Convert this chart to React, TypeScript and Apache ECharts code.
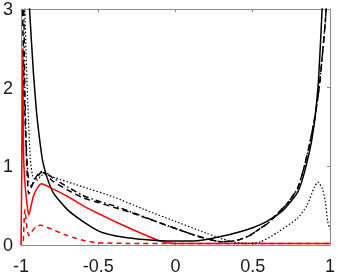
import React, { useEffect, useRef } from "react";
import * as echarts from "echarts";

const xTicks = [-1, -0.5, 0, 0.5, 1];
const yTicks = [0, 1, 2, 3];

// black solid
const solidX = [-0.96, -0.945, -0.92, -0.9, -0.88, -0.86, -0.83, -0.79, -0.7, -0.6, -0.5, -0.4, -0.3, -0.2, -0.1, 0, 0.1, 0.2, 0.3, 0.4, 0.5, 0.6, 0.7, 0.79, 0.834, 0.886, 0.922, 0.949, 0.96];
const solidY = [3.6, 3.0, 2.2, 1.7, 1.35, 1.07, 0.85, 0.66, 0.45, 0.3, 0.18, 0.12, 0.09, 0.07, 0.055, 0.05, 0.05, 0.07, 0.11, 0.16, 0.22, 0.31, 0.45, 0.67, 0.92, 1.38, 2.0, 3.0, 3.6];

// black dashed
const dashX = [-0.995, -0.99, -0.98, -0.97, -0.96, -0.95, -0.92, -0.89, -0.855, -0.8, -0.7, -0.6, -0.5, -0.4, -0.3, -0.1, 0, 0.1, 0.2, 0.3, 0.4, 0.48, 0.54, 0.6, 0.66, 0.72, 0.79, 0.834, 0.87, 0.9, 0.93, 0.95, 0.968, 0.975, 0.985];
const dashY = [4, 3.0, 2.0, 1.4, 0.9, 0.65, 0.8, 0.9, 0.92, 0.82, 0.7, 0.6, 0.54, 0.48, 0.42, 0.28, 0.21, 0.14, 0.08, 0.04, 0.06, 0.12, 0.2, 0.28, 0.4, 0.52, 0.72, 1.0, 1.3, 1.6, 2.0, 2.4, 2.8, 3.0, 3.6];

// black dash-dot
const dashDotX = [-0.985, -0.975, -0.965, -0.95, -0.935, -0.9, -0.86, -0.8, -0.7, -0.6, -0.5, -0.4, -0.3, -0.1, 0, 0.1, 0.2, 0.3, 0.4, 0.48, 0.54, 0.6, 0.66, 0.72, 0.79, 0.834, 0.87, 0.9, 0.93, 0.95, 0.968, 0.975, 0.985];
const dashDotY = [3.5, 2.0, 1.2, 0.8, 0.75, 0.85, 0.94, 0.86, 0.74, 0.63, 0.56, 0.5, 0.43, 0.28, 0.21, 0.14, 0.08, 0.04, 0.06, 0.12, 0.2, 0.28, 0.4, 0.52, 0.72, 1.0, 1.3, 1.6, 2.0, 2.4, 2.8, 3.0, 3.6];

// black dotted
const dotX = [-0.98, -0.975, -0.96, -0.94, -0.925, -0.9, -0.87, -0.84, -0.8, -0.6, -0.4, -0.2, 0, 0.2, 0.35, 0.45, 0.55, 0.66, 0.79, 0.85, 0.9, 0.922, 0.95, 0.97, 0.985, 1.0];
const dotY = [3.6, 3.0, 2.0, 1.1, 0.88, 0.82, 0.88, 0.92, 0.87, 0.74, 0.61, 0.45, 0.3, 0.15, 0.05, 0.02, 0.04, 0.16, 0.34, 0.5, 0.74, 0.8, 0.72, 0.55, 0.3, 0.2];

// red solid
const redX = [-1, -0.992, -0.988, -0.984, -0.975, -0.96, -0.95, -0.94, -0.92, -0.89, -0.867, -0.8, -0.7, -0.6, -0.5, -0.35, -0.2, -0.1, -0.05, 0, 0.5, 1];
const redY = [0, 1.5, 2.5, 1.2, 0.8, 0.5, 0.38, 0.45, 0.62, 0.74, 0.78, 0.72, 0.62, 0.5, 0.4, 0.26, 0.13, 0.05, 0.03, 0.02, 0.02, 0.02];

// red dashed
const redDashX = [-0.985, -0.975, -0.96, -0.95, -0.93, -0.9, -0.87, -0.8, -0.7, -0.6, -0.5, -0.3, 0, 0.5, 1];
const redDashY = [0.05, 0.45, 0.2, 0.12, 0.17, 0.24, 0.25, 0.2, 0.12, 0.06, 0.03, 0.02, 0.02, 0.02, 0.02];

const zip = (xs: number[], ys: number[]) => xs.map((x, i) => [x, ys[i]]);

export default function App() {
  const ref = useRef<HTMLDivElement>(null);
  useEffect(() => {
    if (!ref.current) return;
    const chart = echarts.init(ref.current, null, { renderer: "svg" });
    const axisCommon = {
      type: "value" as const,
      axisLine: { show: true, onZero: false, lineStyle: { color: "#8c8c8c", width: 1 } },
      axisTick: { show: true, inside: true, length: 3, lineStyle: { color: "#8c8c8c" } },
      splitLine: { show: false },
    };
    const font = { fontFamily: "Liberation Sans", fontSize: 18, color: "#1a1a1a" };
    const mk = (name: string, xs: number[], ys: number[], color: string, width: number, type: any) => ({
      name,
      type: "line",
      data: zip(xs, ys),
      showSymbol: false,
      symbol: "none",
      smooth: 0.2,
      clip: true,
      lineStyle: { color, width, type },
    });
    chart.setOption({
      animation: false,
      grid: { left: 17, right: 5, top: 7, bottom: 30 },
      xAxis: [
        {
          ...axisCommon,
          min: xTicks[0],
          max: xTicks[xTicks.length - 1],
          interval: 0.5,
          position: "bottom",
          axisLabel: { ...font, margin: 12, formatter: (v: number) => String(v) },
        },
        {
          ...axisCommon,
          min: xTicks[0],
          max: xTicks[xTicks.length - 1],
          interval: 0.5,
          position: "top",
          axisLabel: { show: false },
        },
      ],
      yAxis: [
        {
          ...axisCommon,
          min: yTicks[0],
          max: yTicks[yTicks.length - 1],
          interval: 1,
          position: "left",
          axisLabel: { ...font, margin: 8 },
        },
        {
          ...axisCommon,
          min: yTicks[0],
          max: yTicks[yTicks.length - 1],
          interval: 1,
          position: "right",
          axisLabel: { show: false },
        },
      ],
      series: [
        mk("redDash", redDashX, redDashY, "#ff0000", 1.5, [5, 4]),
        mk("red", redX, redY, "#ff0000", 1.5, "solid"),
        mk("dot", dotX, dotY, "#000000", 1.2, [1.5, 2]),
        mk("dashDot", dashDotX, dashDotY, "#000000", 1.5, [6, 3, 1.5, 3]),
        mk("dash", dashX, dashY, "#000000", 1.5, [6, 4]),
        mk("solid", solidX, solidY, "#000000", 1.5, "solid"),
      ],
    });
    return () => chart.dispose();
  }, []);
  return <div ref={ref} style={{ position: "fixed", left: 0, top: 0, width: 338, height: 275 }} />;
}
